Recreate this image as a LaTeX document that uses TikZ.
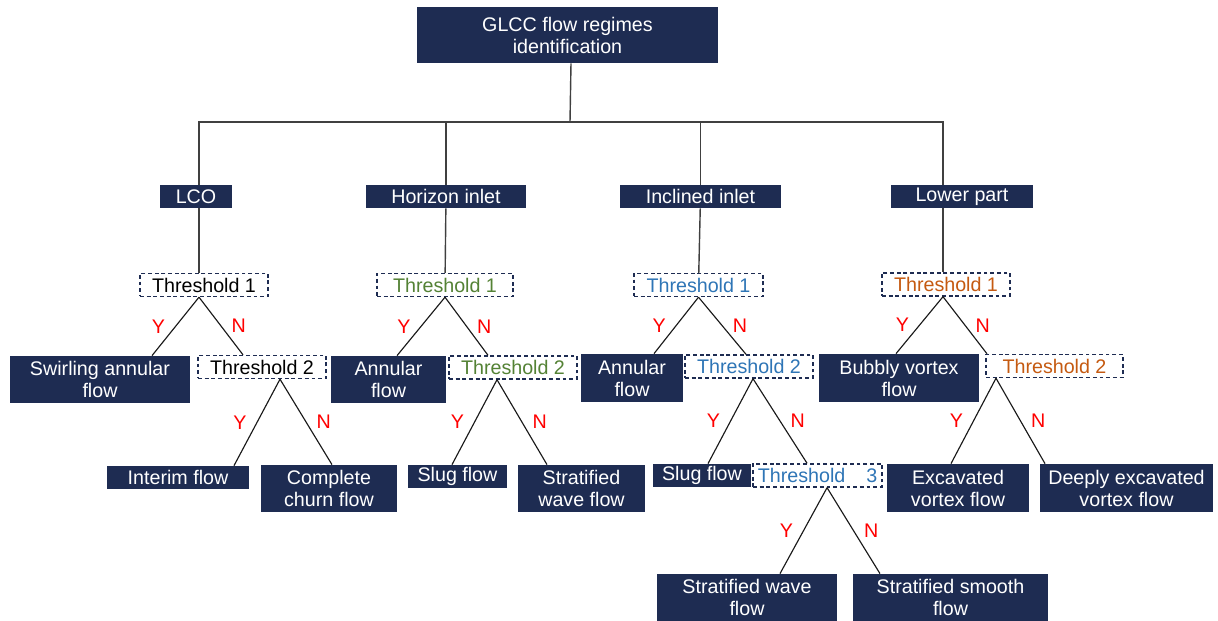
\documentclass[tikz,border=0pt]{standalone}
\usepackage{fontspec}
\setmainfont{Liberation Sans}
\usetikzlibrary{positioning}
\def \pu {0.02cm}
\definecolor{navy}{RGB}{30,44,82}
\definecolor{grn}{RGB}{84,130,53}
\definecolor{blu}{RGB}{46,117,182}
\definecolor{org}{RGB}{197,90,17}
\tikzset{
  regime/.style={fill=navy, text=white, align=center, inner sep=0pt},
  thr/.style={draw=navy, line width=0.8pt, dash pattern=on 2.2pt off 1.6pt,
    fill=white, inner sep=0pt, minimum height=23*\pu},
  trunk/.style={draw=black!75, line width=0.8pt},
  branch/.style={draw=black!90, line width=0.65pt},
  yes/.style={left=0.2cm, text=red, inner sep=0pt},
  no/.style={right=0.2cm, text=red, inner sep=0pt}
}

\begin{document}
\begin{tikzpicture}[x=\pu,y=-\pu,font=\fontsize{11.2}{12.5}\selectfont]
    \useasboundingbox (0,0) rectangle (1218,621);
    % root and the four parts
    \node[regime,minimum width=301*\pu,minimum height=56*\pu] (glcc) at (567.5,35) {GLCC flow regimes\\identification};
    \node[regime,minimum width=72*\pu,minimum height=23*\pu] (lco) at (196,196.5) {LCO};
    \node[regime,minimum width=160*\pu,minimum height=23*\pu] (hor) at (446,196.5) {Horizon inlet};
    \node[regime,minimum width=161*\pu,minimum height=23*\pu] (inc) at (700.5,196.5) {Inclined inlet};
    \node[regime,minimum width=142*\pu,minimum height=23*\pu] (low) at (962,196.5) {Lower part};
    \coordinate (bus) at (570,122);
    \coordinate (lowtop) at ([xshift=-19*\pu]low.north);

    % thresholds
    \node[thr,minimum width=128*\pu] (lt1) at (204,285) {Threshold 1};
    \node[thr,minimum width=136*\pu,text=grn] (ht1) at (445,285) {Threshold 1};
    \node[thr,minimum width=129*\pu,text=blu] (it1) at (698.5,285) {Threshold 1};
    \node[thr,minimum width=128*\pu,text=org] (wt1) at (946,284.5) {Threshold 1};
    \node[thr,minimum width=128*\pu] (lt2) at (262,367) {Threshold 2};
    \node[thr,minimum width=128*\pu,text=grn] (ht2) at (513,367.5) {Threshold 2};
    \node[thr,minimum width=128*\pu,text=blu] (it2) at (749,366.5) {Threshold 2};
    \node[thr,minimum width=137*\pu,text=org] (wt2) at (1054.5,366) {Threshold 2};

    % flow regimes
    \node[regime,minimum width=180*\pu,minimum height=47*\pu] (swirl) at (100,379.5) {Swirling annular\\flow};
    \node[regime,minimum width=142*\pu,minimum height=23*\pu] (interim) at (178,477.5) {Interim flow};
    \node[regime,minimum width=136*\pu,minimum height=47*\pu] (churn) at (329,488.5) {Complete\\churn flow};
    \node[regime,minimum width=115*\pu,minimum height=47*\pu] (hann) at (388.5,379.5) {Annular\\flow};
    \node[regime,minimum width=99*\pu,minimum height=23*\pu] (hslug) at (457.5,476.5) {Slug flow};
    \node[regime,minimum width=127*\pu,minimum height=47*\pu] (hwave) at (581.5,488.5) {Stratified\\wave flow};
    \node[regime,minimum width=102*\pu,minimum height=48*\pu] (iann) at (632,378) {Annular\\flow};
    \node[regime,minimum width=98*\pu,minimum height=23*\pu] (islug) at (702,475.5) {Slug flow};
    \node[thr,minimum width=129*\pu,text=blu,right=1*\pu of islug] (it3) {Threshold\hspace{0.42cm}3};
    \node[regime,minimum width=180*\pu,minimum height=47*\pu] (iwave) at (747,597.5) {Stratified wave\\flow};
    \node[regime,minimum width=195*\pu,minimum height=47*\pu] (smooth) at (950.5,597.5) {Stratified smooth\\flow};
    \node[regime,minimum width=160*\pu,minimum height=48*\pu] (bub) at (899,378) {Bubbly vortex\\flow};
    \node[regime,minimum width=142*\pu,minimum height=48*\pu] (exc) at (958,488) {Excavated\\vortex flow};
    \node[regime,minimum width=173*\pu,minimum height=48*\pu] (deep) at (1126.5,488) {Deeply excavated\\vortex flow};

    % trunk
    \draw[trunk] ([xshift=3.5*\pu]glcc.south) -- (bus);
    \draw[trunk] ([xshift=3*\pu]lco.north) |- (bus);
    \draw[trunk] (lowtop) |- (bus);
    \draw[trunk] (hor) -- (hor |- bus);
    \draw[trunk] (inc) -- (inc |- bus);
    \draw[trunk] ([xshift=3*\pu]lco.south) -- ([xshift=-5*\pu]lt1.north);
    \draw[trunk] (hor) -- (ht1);
    \draw[trunk] (inc) -- (it1);
    \draw[trunk] ([xshift=-19*\pu]low.south) -- ([xshift=-3*\pu]wt1.north);

    % Y / N branches
    \path[branch] ([xshift=-5*\pu]lt1.south) edge node[yes] {Y} ([xshift=52*\pu]swirl.north)
                                             edge node[no] {N} ([xshift=-19*\pu]lt2.north);
    \path[branch] ([xshift=18*\pu]lt2.south) edge node[yes] {Y} ([xshift=56*\pu]interim.north)
                                             edge node[no] {N} ([xshift=3*\pu]churn.north);
    \path[branch] (ht1.south) edge node[yes] {Y} ([xshift=8.5*\pu]hann.north)
                              edge node[no] {N} ([xshift=-25*\pu]ht2.north);
    \path[branch] ([xshift=-16*\pu]ht2.south) edge node[yes] {Y} ([xshift=-5.5*\pu]hslug.north)
                                              edge node[no] {N} ([xshift=-34.5*\pu]hwave.north);
    \path[branch] (it1.south) edge node[yes] {Y} ([xshift=22*\pu]iann.north)
                              edge node[no] {N} ([xshift=-3*\pu]it2.north);
    \path[branch] ([xshift=4*\pu]it2.south) edge node[yes] {Y} ([xshift=6*\pu]islug.north)
                                            edge node[no] {N} ([xshift=-10.5*\pu]it3.north);
    \path[branch] ([xshift=9.5*\pu]it3.south) edge node[yes] {Y} ([xshift=33*\pu]iwave.north)
                                              edge node[no] {N} ([xshift=-70.5*\pu]smooth.north);
    \path[branch] ([xshift=-3*\pu]wt1.south) edge node[yes] {Y} ([xshift=-3*\pu]bub.north)
                                             edge node[no] {N} ([xshift=-67.5*\pu]wt2.north);
    \path[branch] ([xshift=-58.5*\pu]wt2.south) edge node[yes] {Y} ([xshift=-7*\pu]exc.north)
                                                edge node[no] {N} ([xshift=-81.5*\pu]deep.north);
\end{tikzpicture}
\end{document}
